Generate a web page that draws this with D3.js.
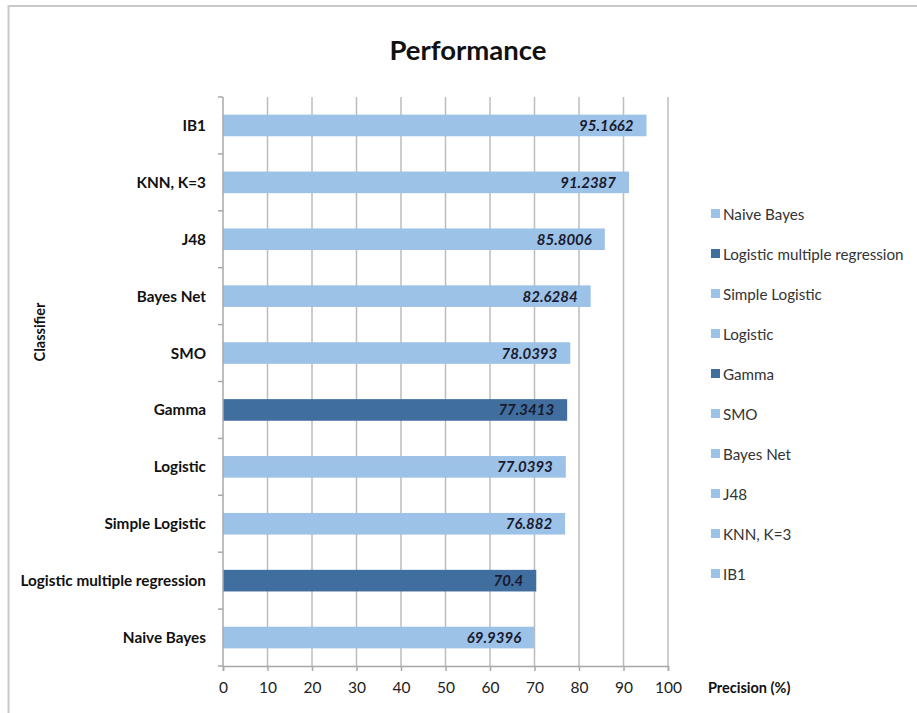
<!DOCTYPE html>
<html>
<head>
<meta charset="utf-8">
<script src="https://cdn.jsdelivr.net/npm/d3@7"></script>
<style>
  body { margin: 0; background: #fff; }
  text { font-family: Lato, "Open Sans", sans-serif; }
</style>
</head>
<body>
<div id="chart"></div>
<script>
(function() {
  // data, bottom to top as in the picture
  var classifiers = ["Naive Bayes", "Logistic multiple regression", "Simple Logistic", "Logistic",
    "Gamma", "SMO", "Bayes Net", "J48", "KNN, K=3", "IB1"];
  var precision = [69.9396, 70.4, 76.882, 77.0393, 77.3413, 78.0393, 82.6284, 85.8006, 91.2387, 95.1662];
  var labels = ["69.9396", "70.4", "76.882", "77.0393", "77.3413", "78.0393", "82.6284", "85.8006", "91.2387", "95.1662"];
  var highlighted = ["Logistic multiple regression", "Gamma"];
  var xTicks = [0, 10, 20, 30, 40, 50, 60, 70, 80, 90, 100];

  var lightBlue = "#9cc2e8",
      darkBlue = "#3f6e9f";

  var W = 917, H = 713;
  var left = 223, right = 668, top = 97, bottom = 666;

  var svg = d3.select("#chart")
    .append("svg")
    .attr("width", W)
    .attr("height", H);

  // chart frame
  svg.append("rect")
    .attr("x", 8.5)
    .attr("y", 6)
    .attr("width", W + 20)
    .attr("height", H + 20)
    .attr("fill", "none")
    .attr("stroke", "#c8c8c8")
    .attr("stroke-width", 2)

  var xPositionScale = d3.scaleLinear()
    .domain([0, 100])
    .range([left, right])

  // top to bottom on screen: IB1 first
  var yPositionScale = d3.scaleBand()
    .domain(classifiers.slice().reverse())
    .range([top, bottom])
    .paddingInner(0.62)
    .paddingOuter(0.31)

  // gridlines
  svg.append("g")
    .selectAll("line")
    .data(xTicks.slice(1))
    .enter().append("line")
    .attr("x1", function(d) { return xPositionScale(d) })
    .attr("x2", function(d) { return xPositionScale(d) })
    .attr("y1", top)
    .attr("y2", bottom)
    .attr("stroke", "#bdbdbd")
    .attr("stroke-width", 1.5)

  // bars
  var rows = classifiers.map(function(c, i) {
    return { name: c, value: precision[i], label: labels[i] }
  })

  svg.append("g")
    .selectAll("rect")
    .data(rows)
    .enter().append("rect")
    .attr("x", xPositionScale(0))
    .attr("y", function(d) { return yPositionScale(d.name) })
    .attr("width", function(d) { return xPositionScale(d.value) - xPositionScale(0) })
    .attr("height", yPositionScale.bandwidth())
    .attr("fill", function(d) {
      return highlighted.indexOf(d.name) >= 0 ? darkBlue : lightBlue
    })

  // value labels
  svg.append("g")
    .selectAll("text")
    .data(rows)
    .enter().append("text")
    .text(function(d) { return d.label })
    .attr("x", function(d) { return xPositionScale(d.value) - 13 })
    .attr("y", function(d) { return yPositionScale(d.name) + yPositionScale.bandwidth() / 2 + 5.5 })
    .attr("text-anchor", "end")
    .attr("font-size", 15)
    .attr("font-weight", "bold")
    .attr("font-style", "italic")
    .attr("fill", "#1a1a2e")

  // x axis
  var xAxis = d3.axisBottom(xPositionScale).tickValues(xTicks).tickSize(5).tickPadding(11)
  var gx = svg.append("g")
    .attr("class", "axis x-axis")
    .attr("transform", "translate(0," + bottom + ")")
    .call(xAxis)
  gx.select(".domain").attr("stroke", "#a8a8a8").attr("stroke-width", 1.5)
  gx.selectAll(".tick line").attr("stroke", "#a8a8a8").attr("stroke-width", 1.5)
  gx.selectAll(".tick text")
    .attr("font-size", 15.5)
    .attr("fill", "#222")
    .style("font-family", "Lato, 'Open Sans', sans-serif")

  // y axis: line plus ticks between categories
  svg.append("line")
    .attr("x1", left).attr("x2", left)
    .attr("y1", top).attr("y2", bottom)
    .attr("stroke", "#a8a8a8")
    .attr("stroke-width", 1.5)

  var step = yPositionScale.step()
  svg.append("g")
    .selectAll("line")
    .data(d3.range(classifiers.length + 1))
    .enter().append("line")
    .attr("x1", left - 5).attr("x2", left)
    .attr("y1", function(i) { return top + i * step })
    .attr("y2", function(i) { return top + i * step })
    .attr("stroke", "#a8a8a8")
    .attr("stroke-width", 1.5)

  svg.append("g")
    .selectAll("text")
    .data(classifiers)
    .enter().append("text")
    .text(function(d) { return d })
    .attr("x", 206)
    .attr("y", function(d) { return yPositionScale(d) + yPositionScale.bandwidth() / 2 + 5.5 })
    .attr("text-anchor", "end")
    .attr("font-size", 15.3)
    .attr("font-weight", "bold")
    .attr("fill", "#111")

  // title
  svg.append("text")
    .text("Performance")
    .attr("x", 468)
    .attr("y", 60)
    .attr("text-anchor", "middle")
    .attr("font-size", 27.5)
    .attr("font-weight", "bold")
    .attr("fill", "#111")

  // axis titles
  svg.append("text")
    .text("Classifier")
    .attr("transform", "translate(45,332) rotate(-90)")
    .attr("text-anchor", "middle")
    .attr("font-size", 14.5)
    .attr("font-weight", "bold")
    .attr("fill", "#111")

  svg.append("text")
    .text("Precision (%)")
    .attr("x", 708)
    .attr("y", 693)
    .attr("font-size", 14.5)
    .attr("font-weight", "bold")
    .attr("fill", "#111")

  // legend, bottom category first
  var legend = svg.append("g")
    .selectAll("g")
    .data(classifiers)
    .enter().append("g")
    .attr("transform", function(d, i) { return "translate(711," + (220 + i * 40) + ")" })

  legend.append("rect")
    .attr("x", 0)
    .attr("y", -11)
    .attr("width", 9)
    .attr("height", 9)
    .attr("fill", function(d) { return highlighted.indexOf(d) >= 0 ? darkBlue : lightBlue })

  legend.append("text")
    .text(function(d) { return d })
    .attr("x", 12)
    .attr("y", 0)
    .attr("font-size", 15.2)
    .attr("fill", "#333")
})();
</script>
</body>
</html>
